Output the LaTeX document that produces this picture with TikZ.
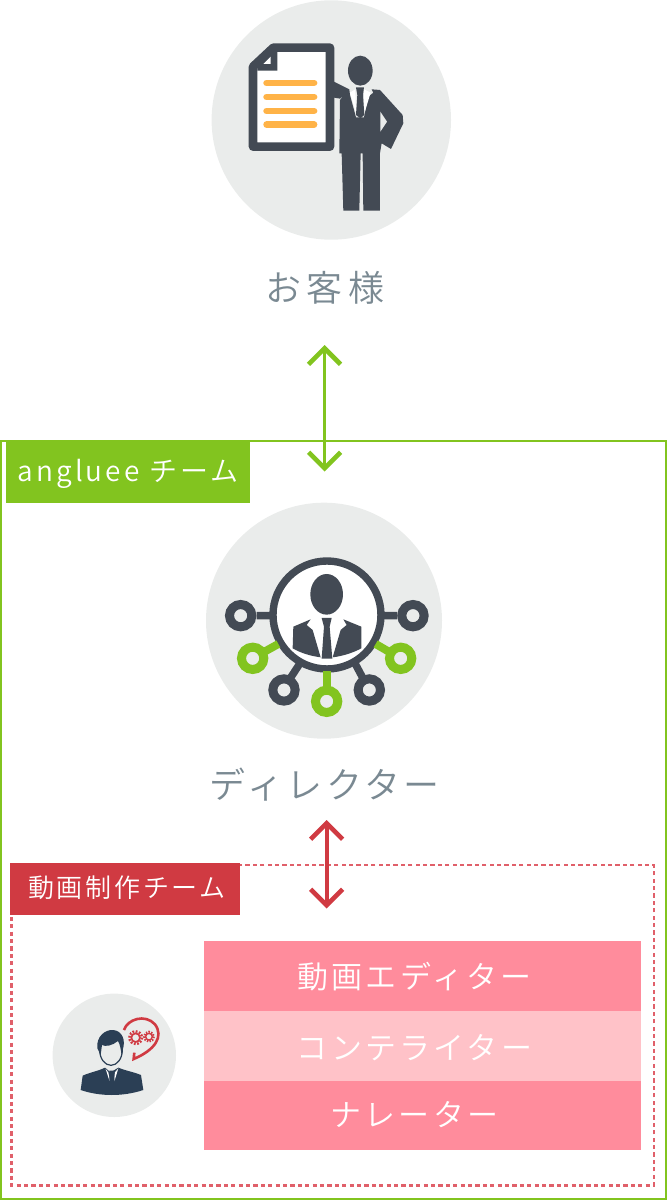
\documentclass[tikz,border=0pt]{standalone}
\usepackage{fontspec}
\usetikzlibrary{arrows.meta}
\newfontfamily\jpfont{Noto Sans CJK JP DemiLight}
\definecolor{bgc}{HTML}{EAECEB}
\definecolor{dark}{HTML}{434A54}
\definecolor{gr}{HTML}{82C41F}
\definecolor{rd}{HTML}{D03A42}
\definecolor{dashc}{HTML}{E0606A}
\definecolor{org}{HTML}{FFB347}
\definecolor{pk}{HTML}{FF8C9C}
\definecolor{lpk}{HTML}{FFC2C8}
\definecolor{navy}{HTML}{2B3F55}
\definecolor{lab}{HTML}{7A8992}
\newcommand{\jpsize}[2]{\jpfont\addfontfeature{LetterSpace=#2}\fontsize{#1}{#1}\selectfont}
\tikzset{
 bigcirc/.style={circle,fill=bgc,draw=none,inner sep=0pt,minimum size=#1},
 caption/.style={text=lab,inner sep=0pt,anchor=center},
 tag/.style={fill=#1,draw=none,inner sep=0pt,anchor=north west},
 tagtext/.style={text=white,inner sep=0pt},
 row/.style={fill=#1,draw=none,inner sep=0pt,minimum width=437pt,anchor=north west},
 rowtext/.style={text=white,inner sep=0pt,font=\jpsize{31}{10.5}},
 twoway/.style={draw=#1,line width=3.6pt,{Straight Barb[length=16pt,width=32pt,line width=4.6pt]}-{Straight Barb[length=16pt,width=32pt,line width=4.6pt]}},
 zoomtop/.style={shift={(200pt,0pt)},x=0.3333pt,y=-0.3333pt},
 zoommid/.style={shift={(200pt,-500pt)},x=0.3333pt,y=-0.3333pt},
 zoomlow/.style={shift={(40pt,-985pt)},x=0.3333pt,y=-0.3333pt},
}
\begin{document}
\begin{tikzpicture}[x=1pt,y=-1pt]
\useasboundingbox (0,0) rectangle (667,1201);
% frames
\draw[gr,line width=2pt] (1.3,441) rectangle (665.8,1199);
\draw[draw=dashc,line width=2.2pt,dash pattern=on 4.2pt off 3.2pt] (11.5,865) rectangle (653.6,1185.5);
% circles
\node[bigcirc=239.4pt] (topc) at (331.3,120) {};
\node[bigcirc=236pt] (midc) at (324,620.7) {};
\node[bigcirc=123.4pt] (lowc) at (114.3,1055.3) {};
% top icon
\begin{scope}[zoomtop]
 \fill[dark] (402,245) -- (448,268) -- (435,280) -- (420,300) -- (418,460) -- (425,460) -- (430,632) -- (478,632) -- (482,460) -- (488,460) -- (490,632) -- (540,632) -- (540,460) -- (545,430) -- (573,447) -- (610,370) -- (608,345) -- (540,270) -- (515,268) -- (520,278) -- (505,290) -- (492,352) -- (468,352) -- (450,285) -- (448,268) -- (420,296) -- (402,293) -- cycle;
 \fill[white] (450,278) -- (466,268) -- (468,340) -- cycle (492,268) -- (512,278) -- (493,340) -- cycle;
 \fill[dark] (468,262) -- (492,262) -- (489,285) -- (493,345) -- (481,355) -- (468,345) -- (472,285) -- cycle;
 \fill[bgc] (541,335) -- (561,365) -- (541,395) -- cycle;
 \fill[dark] (481,212) ellipse [x radius=37,y radius=45];
 \draw[dark,line width=8.6pt,line join=round,fill=white] (159,200) -- (220,143) -- (390,143) -- (390,440) -- (159,440) -- cycle;
 \fill[dark] (232,157) -- (232,212) -- (172,212) -- (172,190) -- (215,143) -- (232,143) -- cycle;
 \fill[white] (190,192) -- (212,170) -- (212,192) -- cycle;
 \draw[org,line width=6.8pt,line cap=round] (200,249) -- (342,249) (200,291) -- (342,291) (200,333) -- (342,333) (200,374) -- (342,374);
\end{scope}
% director icon
\begin{scope}[zoommid]
 \draw[dark,line width=7.4pt,fill=white] (381,345) circle [radius=162];
 \fill[dark] (380,283) ellipse [x radius=49,y radius=61];
 \fill[dark] (280,380) -- (332,358) -- (320,375) -- (338,390) -- (362,472) .. controls (330,468) and (300,458) .. (278,445) -- cycle;
 \fill[dark] (484,380) -- (430,358) -- (440,375) -- (422,390) -- (398,472) .. controls (430,468) and (460,458) .. (484,445) -- cycle;
 \fill[dark] (365,354) -- (395,354) -- (389,380) -- (397,476) -- (365,476) -- (372,380) -- cycle;
 \draw[dark,line width=7.5pt] (170,347) -- (215,347) (550,347) -- (592,347) (272,533) -- (300,490) (488,533) -- (465,490);
 \draw[gr,line width=8pt] (190,457) -- (235,432) (570,457) -- (527,432);
 \draw[gr,line width=8.2pt] (380,513) -- (380,560);
 \foreach \nn/\cx/\cy/\cc in {a/122/347/dark,b/639/347/dark,c/252/570/dark,d/508/570/dark,e/158/475/gr,f/602/475/gr,g/380/604/gr}
  \draw[\cc,line width=9pt,fill=bgc] (\cx,\cy) circle [radius=33.5];
\end{scope}
% small icon
\begin{scope}[zoomlow]
 \fill[navy] (122,315) -- (128,272) .. controls (150,262) and (175,258) .. (195,248) -- (212,262) -- (235,248) .. controls (260,258) and (285,262) .. (303,270) -- (310,315) .. controls (250,335) and (180,335) .. (122,315) -- cycle;
 \fill[white] (197,252) -- (211,296) -- (205,262) -- cycle (235,250) -- (221,296) -- (225,262) -- cycle;
 \draw[navy,line width=1.2pt,fill=bgc] (213,195) ellipse [x radius=34,y radius=46];
 \fill[navy] (182,210) -- (172,190) .. controls (168,155) and (195,133) .. (220,135) .. controls (247,138) and (258,165) .. (248,195) -- (245,212) .. controls (242,190) and (240,178) .. (234,168) .. controls (218,182) and (195,186) .. (186,180) -- cycle;
 \fill[navy] (208,257) -- (224,257) -- (221,268) -- (226,300) -- (216,316) -- (206,300) -- (211,268) -- cycle;
 \draw[rd,line width=2.6pt,line join=miter] (252,135) .. controls (262,103) and (315,85) .. (345,118) .. controls (372,155) and (345,195) .. (281,222) -- (283,203);
 \draw[rd,line width=2.4pt,dash pattern=on 1.8pt off 1.5pt] (287,158) circle [radius=19];
 \draw[rd,line width=1.7pt] (287,158) circle [radius=13];
 \draw[rd,line width=2pt,dash pattern=on 1.5pt off 1.3pt] (327,155) circle [radius=15];
 \draw[rd,line width=1.4pt] (327,155) circle [radius=10];
\end{scope}
% tags
\node[tag=gr,minimum width=243.8pt,minimum height=61.3pt] (gtag) at (5.7,441) {};
\node[tagtext,font=\jpsize{28}{11}] (gtext) at (128,473.5) {angluee チーム};
\node[tag=rd,minimum width=229.3pt,minimum height=52pt] (rtag) at (10,862.3) {};
\node[tagtext,font=\jpsize{26}{10.5}] (rtext) at (127,888) {動画制作チーム};
% captions
\node[caption,font=\jpsize{36}{15.6}] (c1) at (325,288) {お客様};
\node[caption,font=\jpsize{36}{10}] (c2) at (325,785) {ディレクター};
% rows
\node[row=pk,minimum height=70pt] (r1) at (204,941) {};
\node[row=lpk,minimum height=70pt] (r2) at (204,1011) {};
\node[row=pk,minimum height=69pt] (r3) at (204,1081) {};
\node[rowtext] (t1) at (414.5,977) {動画エディター};
\node[rowtext] (t2) at (414.5,1048) {コンテライター};
\node[rowtext] (t3) at (414.5,1115) {ナレーター};
% arrows
\coordinate (gt) at (324.5,345);
\coordinate (gb) at (324.5,471.5);
\coordinate (rt) at (326.7,820);
\coordinate (rb) at (326.7,908.5);
\draw[twoway=gr] (gt) -- (gb);
\draw[twoway=rd] (rt) -- (rb);
\end{tikzpicture}
\end{document}
